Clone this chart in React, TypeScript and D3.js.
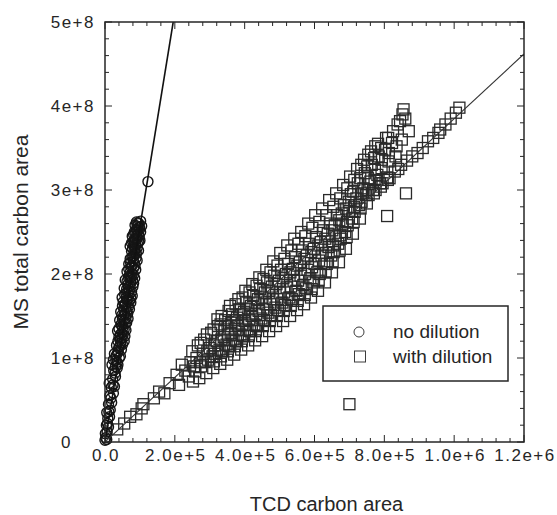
import React, { useEffect, useRef } from 'react'
import * as d3 from 'd3'

// points: [TCD carbon area / 1e5, MS total carbon area / 1e8]
const X_UNIT = 1e5
const Y_UNIT = 1e8

const noDilution: [number, number][] = [
  [0.00, 0.02], [0.02, 0.05], [0.05, 0.03], [0.01, 0.10], [0.06, 0.12], [0.04, 0.20], [0.10, 0.18], [0.07, 0.22],
  [0.08, 0.28], [0.13, 0.30], [0.05, 0.35], [0.11, 0.36], [0.15, 0.38], [0.10, 0.45], [0.19, 0.47], [0.17, 0.52],
  [0.14, 0.55], [0.24, 0.58], [0.18, 0.65], [0.27, 0.66], [0.23, 0.68], [0.12, 0.70], [0.22, 0.75], [0.30, 0.78],
  [0.29, 0.82], [0.25, 0.85], [0.35, 0.88], [0.20, 0.92], [0.35, 0.95], [0.31, 0.97], [0.41, 1.00], [0.27, 1.05],
  [0.38, 1.08], [0.47, 1.10], [0.39, 1.12], [0.33, 1.15], [0.45, 1.18], [0.55, 1.20], [0.44, 1.22], [0.40, 1.25],
  [0.52, 1.28], [0.48, 1.30], [0.36, 1.32], [0.60, 1.33], [0.51, 1.36], [0.48, 1.38], [0.58, 1.41], [0.55, 1.44],
  [0.42, 1.45], [0.66, 1.47], [0.53, 1.50], [0.57, 1.52], [0.45, 1.55], [0.62, 1.56], [0.70, 1.58], [0.60, 1.60],
  [0.50, 1.62], [0.58, 1.65], [0.74, 1.66], [0.63, 1.69], [0.66, 1.70], [0.49, 1.72], [0.78, 1.74], [0.69, 1.75],
  [0.60, 1.77], [0.70, 1.80], [0.55, 1.83], [0.67, 1.84], [0.80, 1.85], [0.66, 1.88], [0.74, 1.90], [0.58, 1.93],
  [0.72, 1.95], [0.85, 1.95], [0.75, 1.97], [0.70, 1.98], [0.78, 2.00], [0.63, 2.03], [0.88, 2.05], [0.75, 2.08],
  [0.77, 2.10], [0.68, 2.12], [0.84, 2.13], [0.81, 2.15], [0.92, 2.16], [0.72, 2.18], [0.80, 2.21], [0.83, 2.22],
  [0.90, 2.24], [0.76, 2.27], [0.96, 2.28], [0.86, 2.29], [0.85, 2.31], [0.72, 2.33], [0.88, 2.35], [0.93, 2.36],
  [0.80, 2.38], [1.00, 2.40], [0.87, 2.42], [0.78, 2.45], [0.91, 2.46], [0.95, 2.47], [0.84, 2.50], [1.02, 2.50],
  [0.90, 2.53], [0.98, 2.56], [1.05, 2.57], [0.86, 2.58], [0.94, 2.61], [1.23, 3.10],
  [0.30, 0.90], [0.37, 0.92], [0.24, 0.98], [0.44, 1.02], [0.32, 1.03], [0.36, 1.06], [0.42, 1.14], [0.50, 1.16],
  [0.37, 1.20], [0.49, 1.24], [0.57, 1.26], [0.44, 1.28], [0.40, 1.35], [0.55, 1.34], [0.46, 1.40], [0.62, 1.42],
  [0.50, 1.46], [0.60, 1.48], [0.48, 1.51], [0.65, 1.53], [0.54, 1.57], [0.67, 1.61], [0.56, 1.63], [0.52, 1.67],
  [0.70, 1.68], [0.61, 1.72], [0.74, 1.71], [0.56, 1.76], [0.66, 1.78], [0.76, 1.79], [0.62, 1.82], [0.72, 1.86],
  [0.82, 1.89], [0.63, 1.91], [0.79, 1.93], [0.67, 1.96], [0.82, 1.99], [0.72, 2.02], [0.68, 2.06], [0.82, 2.07],
  [0.86, 2.10], [0.73, 2.14], [0.89, 2.19], [0.77, 2.20], [0.86, 2.25], [0.79, 2.30], [0.92, 2.31], [0.83, 2.34],
  [0.76, 2.37], [0.97, 2.38], [0.84, 2.40], [0.91, 2.43], [0.82, 2.47], [0.98, 2.45], [0.88, 2.49], [0.94, 2.52],
  [1.00, 2.54], [0.92, 2.57], [0.97, 2.60], [1.02, 2.63], [0.90, 2.62],
]

const withDilution: [number, number][] = [
  [0.35, 0.15], [0.55, 0.22], [0.72, 0.30], [0.90, 0.33], [1.05, 0.40], [1.10, 0.45], [1.40, 0.52], [1.55, 0.60],
  [1.70, 0.58], [1.85, 0.70], [2.05, 0.80], [2.20, 0.92], [2.30, 0.85], [2.12, 0.68],
  [2.40, 0.78], [2.45, 0.95], [2.50, 1.08], [2.58, 0.84], [2.62, 1.00], [2.66, 1.15],
  [2.75, 0.90], [2.80, 1.05], [2.84, 1.22], [2.88, 0.96], [2.95, 0.98], [3.00, 1.12], [3.04, 1.30], [3.08, 1.02],
  [3.15, 1.05], [3.20, 1.20], [3.24, 1.38], [3.28, 1.10], [3.22, 1.46],
  [3.35, 1.08], [3.40, 1.25], [3.44, 1.45], [3.48, 1.16], [3.42, 1.34],
  [3.55, 1.14], [3.60, 1.30], [3.64, 1.52], [3.68, 1.22], [3.62, 1.42], [3.58, 1.62],
  [3.75, 1.20], [3.80, 1.38], [3.84, 1.58], [3.88, 1.28], [3.82, 1.70], [3.78, 1.48],
  [3.95, 1.26], [4.00, 1.44], [4.04, 1.66], [4.08, 1.34], [4.02, 1.80], [3.98, 1.55],
  [4.15, 1.32], [4.20, 1.50], [4.24, 1.74], [4.28, 1.40], [4.22, 1.88], [4.18, 1.62],
  [4.35, 1.38], [4.40, 1.56], [4.44, 1.82], [4.48, 1.47], [4.42, 1.96], [4.38, 1.70],
  [4.55, 1.45], [4.60, 1.64], [4.64, 1.90], [4.68, 1.54], [4.62, 2.05], [4.58, 1.78],
  [4.75, 1.51], [4.80, 1.70], [4.84, 1.98], [4.88, 1.60], [4.82, 2.15], [4.78, 1.85],
  [4.95, 1.57], [5.00, 1.78], [5.04, 2.05], [5.08, 1.66], [5.02, 2.25], [4.98, 1.92],
  [5.15, 1.63], [5.20, 1.84], [5.24, 2.12], [5.28, 1.72], [5.22, 2.34], [5.18, 2.00],
  [5.35, 1.70], [5.40, 1.92], [5.44, 2.20], [5.48, 1.80], [5.42, 2.42], [5.38, 2.06],
  [5.55, 1.76], [5.60, 1.98], [5.64, 2.28], [5.68, 1.87], [5.62, 2.50], [5.58, 2.14],
  [5.75, 1.83], [5.80, 2.05], [5.84, 2.36], [5.88, 1.95], [5.82, 2.60], [5.78, 2.22],
  [5.95, 1.90], [6.00, 2.12], [6.04, 2.44], [6.08, 2.02], [6.02, 2.70], [5.98, 2.30],
  [6.15, 2.00], [6.20, 2.22], [6.24, 2.52], [6.28, 2.12], [6.22, 2.78], [6.18, 2.38],
  [6.35, 2.12], [6.40, 2.32], [6.44, 2.60], [6.48, 2.22], [6.42, 2.88], [6.38, 2.48],
  [6.55, 2.26], [6.60, 2.45], [6.64, 2.70], [6.68, 2.36], [6.62, 2.96], [6.58, 2.58],
  [6.75, 2.42], [6.80, 2.60], [6.84, 2.82], [6.88, 2.50], [6.82, 3.06], [6.78, 2.72],
  [6.95, 2.58], [7.00, 2.75], [7.04, 2.95], [7.08, 2.66], [7.02, 3.16], [6.98, 2.86],
  [7.15, 2.74], [7.20, 2.90], [7.24, 3.08], [7.28, 2.82], [7.22, 3.25],
  [7.35, 2.86], [7.40, 3.02], [7.44, 3.20], [7.48, 2.94], [7.42, 3.36],
  [7.55, 2.94], [7.60, 3.10], [7.64, 3.30], [7.68, 3.00], [7.62, 3.46],
  [7.75, 3.00], [7.80, 3.18], [7.84, 3.40], [7.88, 3.08], [7.82, 3.55],
  [7.95, 3.08], [8.02, 3.48], [8.05, 3.62], [8.08, 3.15], [8.15, 3.14], [8.22, 3.56], [8.25, 3.70], [8.30, 3.22],
  [8.40, 3.25], [8.45, 3.82], [8.52, 3.90], [8.55, 3.96], [8.48, 3.30], [8.60, 3.85], [8.70, 3.70], [8.50, 3.60],
  [8.65, 3.35], [8.80, 3.40], [8.95, 3.44], [9.10, 3.50], [9.25, 3.58], [9.40, 3.62], [9.55, 3.68], [9.60, 3.72],
  [9.75, 3.78], [9.90, 3.85], [10.05, 3.92], [10.15, 3.98],
  [7.00, 0.45], [8.08, 2.69], [8.62, 2.96],
  [2.52, 0.72], [2.55, 0.90], [2.70, 0.76], [2.72, 0.95], [2.74, 1.18], [2.90, 0.82], [2.93, 1.08], [2.92, 1.28],
  [3.10, 0.88], [3.12, 0.96], [3.13, 1.15], [3.11, 1.34], [3.30, 0.93], [3.32, 1.02], [3.33, 1.22], [3.31, 1.40],
  [3.34, 1.50], [3.50, 0.98], [3.52, 1.08], [3.53, 1.28], [3.51, 1.38], [3.54, 1.56], [3.70, 1.04], [3.72, 1.14],
  [3.73, 1.34], [3.71, 1.45], [3.74, 1.64], [3.90, 1.10], [3.92, 1.20], [3.93, 1.40], [3.91, 1.52], [3.94, 1.72],
  [4.10, 1.15], [4.12, 1.26], [4.13, 1.46], [4.11, 1.58], [4.14, 1.78], [4.30, 1.21], [4.32, 1.32], [4.33, 1.52],
  [4.31, 1.66], [4.34, 1.86], [4.50, 1.26], [4.52, 1.38], [4.53, 1.58], [4.51, 1.72], [4.54, 1.94], [4.70, 1.32],
  [4.72, 1.44], [4.73, 1.64], [4.71, 1.80], [4.74, 2.02], [4.90, 1.38], [4.92, 1.50], [4.93, 1.70], [4.91, 1.88],
  [4.94, 2.10], [5.10, 1.44], [5.12, 1.56], [5.13, 1.78], [5.11, 1.95], [5.14, 2.18], [5.30, 1.50], [5.32, 1.62],
  [5.33, 1.85], [5.31, 2.02], [5.34, 2.28], [5.50, 1.57], [5.52, 1.68], [5.53, 1.92], [5.51, 2.10], [5.54, 2.36],
  [5.70, 1.64], [5.72, 1.75], [5.73, 2.00], [5.71, 2.18], [5.74, 2.45], [5.90, 1.72], [5.92, 1.82], [5.93, 2.08],
  [5.91, 2.26], [5.94, 2.55], [6.10, 1.80], [6.12, 1.92], [6.13, 2.16], [6.11, 2.34], [6.14, 2.62], [6.30, 1.90],
  [6.32, 2.02], [6.33, 2.25], [6.31, 2.42], [6.34, 2.70], [6.50, 2.02], [6.52, 2.14], [6.53, 2.34], [6.51, 2.52],
  [6.54, 2.80], [6.70, 2.14], [6.72, 2.28], [6.73, 2.46], [6.71, 2.64], [6.74, 2.90], [6.90, 2.30], [6.92, 2.44],
  [6.93, 2.62], [6.91, 2.78], [6.94, 3.02], [7.10, 2.48], [7.12, 2.62], [7.13, 2.80], [7.11, 2.98], [7.14, 3.12],
  [7.30, 2.66], [7.32, 2.78], [7.33, 2.96], [7.31, 3.14], [7.34, 3.30], [7.50, 2.84], [7.52, 3.00], [7.53, 3.14],
  [7.51, 3.28], [7.54, 3.42], [7.70, 2.96], [7.72, 3.12], [7.73, 3.24], [7.71, 3.38], [7.74, 3.52], [7.90, 3.04],
  [7.92, 3.26], [7.93, 3.36], [7.91, 3.50], [8.10, 3.12], [8.12, 3.34], [8.13, 3.44], [8.11, 3.62], [8.32, 3.40],
  [8.35, 3.52], [8.38, 3.78],
]

// fitted lines through the origin: MS area per unit TCD area
const fitSlopes = [2560, 385]

const xTicks = [0, 2e5, 4e5, 6e5, 8e5, 1e6, 1.2e6]
const xTickLabels = ['0.0', '2.0e+5', '4.0e+5', '6.0e+5', '8.0e+5', '1.0e+6', '1.2e+6']
const yTicks = [0, 1e8, 2e8, 3e8, 4e8, 5e8]
const yTickLabels = ['0', '1e+8', '2e+8', '3e+8', '4e+8', '5e+8']
const legendLabels = ['no dilution', 'with dilution']

const FONT = "'Liberation Sans', Arial, sans-serif"

function App() {
  const ref = useRef<SVGSVGElement>(null)

  useEffect(() => {
    const width = 557, height = 515
    const left = 105, right = 524, top = 22, bottom = 442
    const ink = '#262626'

    const svg = d3.select(ref.current)
    svg.selectAll('*').remove()

    const x = d3.scaleLinear().domain([0, 1.2e6]).range([left, right])
    const y = d3.scaleLinear().domain([0, 5e8]).range([bottom, top])

    svg.append('rect').attr('width', width).attr('height', height).attr('fill', '#fff')

    svg.append('clipPath').attr('id', 'plotClip')
      .append('rect').attr('x', left).attr('y', top).attr('width', right - left).attr('height', bottom - top)

    // markers
    svg.append('g').selectAll('rect')
      .data(withDilution)
      .enter()
      .append('rect')
      .attr('x', d => x(d[0] * X_UNIT) - 5.5)
      .attr('y', d => y(d[1] * Y_UNIT) - 5.5)
      .attr('width', 11).attr('height', 11)
      .attr('fill', 'none').attr('stroke', '#2a2a2a').attr('stroke-width', 1.3)

    svg.append('g').selectAll('circle')
      .data(noDilution)
      .enter()
      .append('circle')
      .attr('cx', d => x(d[0] * X_UNIT))
      .attr('cy', d => y(d[1] * Y_UNIT))
      .attr('r', 5)
      .attr('fill', 'none').attr('stroke', '#151515').attr('stroke-width', 1.4)

    // fit lines
    const lineGen = d3.line<[number, number]>().x(d => x(d[0])).y(d => y(d[1]))
    fitSlopes.forEach((s, i) => {
      const xEnd = Math.min(1.2e6, 5e8 / s)
      svg.append('path')
        .attr('d', lineGen([[0, 0], [xEnd, s * xEnd]]))
        .attr('clip-path', 'url(#plotClip)')
        .attr('fill', 'none')
        .attr('stroke', i === 0 ? '#111' : '#333')
        .attr('stroke-width', i === 0 ? 1.6 : 1.1)
    })

    // ticks on all four sides, pointing inward
    const tickG = svg.append('g').attr('stroke', ink).attr('stroke-width', 1)
    d3.range(0, 1.2e6 + 1, 4e4).forEach(v => {
      const major = v % 2e5 === 0
      const len = major ? 7 : 4
      tickG.append('line').attr('x1', x(v)).attr('x2', x(v)).attr('y1', bottom).attr('y2', bottom - len)
      tickG.append('line').attr('x1', x(v)).attr('x2', x(v)).attr('y1', top).attr('y2', top + len)
    })
    d3.range(0, 5e8 + 1, 2e7).forEach(v => {
      const major = v % 1e8 === 0
      const len = major ? 7 : 4
      tickG.append('line').attr('y1', y(v)).attr('y2', y(v)).attr('x1', left).attr('x2', left + len)
      tickG.append('line').attr('y1', y(v)).attr('y2', y(v)).attr('x1', right).attr('x2', right - len)
    })

    svg.append('rect')
      .attr('x', left).attr('y', top).attr('width', right - left).attr('height', bottom - top)
      .attr('fill', 'none').attr('stroke', ink).attr('stroke-width', 1.5)

    // tick labels
    svg.append('g').selectAll('text')
      .data(xTicks)
      .enter()
      .append('text')
      .attr('x', d => x(d) + 1)
      .attr('y', 461)
      .attr('text-anchor', 'middle')
      .style('font-family', FONT).style('font-size', '17px').style('letter-spacing', '1.5px')
      .attr('fill', ink)
      .text((d, i) => xTickLabels[i])

    svg.append('g').selectAll('text')
      .data(yTicks)
      .enter()
      .append('text')
      .attr('x', d => (d === 0 ? 72 : 95))
      .attr('y', d => y(d) + 6)
      .attr('text-anchor', 'end')
      .style('font-family', FONT).style('font-size', '17px').style('letter-spacing', '1.5px')
      .attr('fill', ink)
      .text((d, i) => yTickLabels[i])

    // axis titles
    svg.append('text')
      .attr('x', (left + right) / 2 + 12).attr('y', 511)
      .attr('text-anchor', 'middle')
      .style('font-family', FONT).style('font-size', '20px')
      .attr('fill', ink)
      .text('TCD carbon area')

    svg.append('text')
      .attr('transform', `translate(28,${(top + bottom) / 2}) rotate(-90)`)
      .attr('text-anchor', 'middle')
      .style('font-family', FONT).style('font-size', '21px')
      .attr('fill', ink)
      .text('MS total carbon area')

    // legend
    const lg = svg.append('g')
    lg.append('rect')
      .attr('x', 323).attr('y', 306).attr('width', 185).attr('height', 75)
      .attr('fill', '#fff').attr('stroke', ink).attr('stroke-width', 1.5)
    lg.append('circle').attr('cx', 359).attr('cy', 332).attr('r', 5)
      .attr('fill', 'none').attr('stroke', '#3c3c3c')
    lg.append('rect').attr('x', 354.5).attr('y', 351).attr('width', 11).attr('height', 11)
      .attr('fill', 'none').attr('stroke', '#3c3c3c')
    legendLabels.forEach((t, i) => {
      lg.append('text')
        .attr('x', 393).attr('y', 338 + i * 25)
        .style('font-family', FONT).style('font-size', '19px')
        .attr('fill', ink)
        .text(t)
    })
  }, [])

  return (
    <svg ref={ref} width={557} height={515} style={{ position: 'absolute', left: 0, top: 0 }} />
  )
}

export default App
